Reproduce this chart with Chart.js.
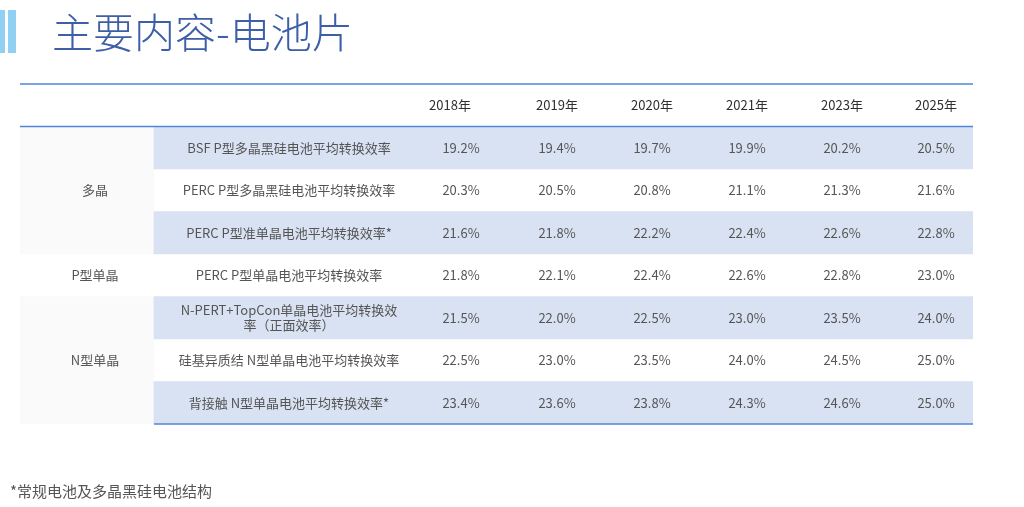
<!DOCTYPE html>
<html>
<head>
<meta charset="utf-8">
<script src="https://cdn.jsdelivr.net/npm/chart.js@4/dist/chart.umd.min.js"></script>
<style>
  html, body { margin: 0; padding: 0; background: #ffffff; }
  #wrap { width: 1024px; height: 507px; position: relative; }
</style>
</head>
<body>
<div id="wrap"><canvas id="c" width="1024" height="507"></canvas></div>
<script>
// ---------- DATA ----------
const titleText = '主要内容-电池片';
const footnote = '*常规电池及多晶黑硅电池结构';
const years = ['2018年', '2019年', '2020年', '2021年', '2023年', '2025年'];
const groupNames = ['多晶', 'P型单晶', 'N型单晶'];
const groupSpans = [3, 1, 3];
const itemNames = [
  'BSF P型多晶黑硅电池平均转换效率',
  'PERC P型多晶黑硅电池平均转换效率',
  'PERC P型准单晶电池平均转换效率*',
  'PERC P型单晶电池平均转换效率',
  ['N-PERT+TopCon单晶电池平均转换效', '率（正面效率）'],
  '硅基异质结 N型单晶电池平均转换效率',
  '背接触 N型单晶电池平均转换效率*'
];
const bsfPoly     = [19.2, 19.4, 19.7, 19.9, 20.2, 20.5];
const percPoly    = [20.3, 20.5, 20.8, 21.1, 21.3, 21.6];
const percQuasi   = [21.6, 21.8, 22.2, 22.4, 22.6, 22.8];
const percMono    = [21.8, 22.1, 22.4, 22.6, 22.8, 23.0];
const nPertTopcon = [21.5, 22.0, 22.5, 23.0, 23.5, 24.0];
const hjtMono     = [22.5, 23.0, 23.5, 24.0, 24.5, 25.0];
const ibcMono     = [23.4, 23.6, 23.8, 24.3, 24.6, 25.0];
const seriesRows = [bsfPoly, percPoly, percQuasi, percMono, nPertTopcon, hjtMono, ibcMono];

// ---------- LAYOUT (table units along x) ----------
const L = {
  tableWidth: 953,
  labelColEnd: 134,
  groupTextX: 75,
  itemTextX: 269,
  headerTextX: [430, 537, 632, 727, 822, 916],
  yearTextX: [441, 537, 632, 727, 822, 916]
};
const COLORS = {
  shade: '#d9e2f3', gray: '#fafafa', rule: '#4f86d9', title: '#3d5fa8',
  titleBar: '#92d0f3', header: '#2f2f2f', text: '#555555'
};
const FONT = '"Noto Sans CJK SC", "Noto Sans", sans-serif';

// ---------- derived tables ----------
const rowLabels = [''].concat(itemNames.map(n => Array.isArray(n) ? n.join('') : n));
const itemGroup = [];
groupSpans.forEach((s, g) => { for (let k = 0; k < s; k++) itemGroup.push(g); });
const shadeData = [null].concat(itemNames.map((_, i) => i % 2 === 0 ? [L.labelColEnd, L.tableWidth] : null));
const grayData = [null].concat(itemGroup.map(g => g % 2 === 0 ? [0, L.labelColEnd] : null));

const tablePlugin = {
  id: 'tablePlugin',
  beforeDraw(chart) {
    const ctx = chart.ctx;
    ctx.save();
    ctx.fillStyle = '#ffffff';
    ctx.fillRect(0, 0, chart.width, chart.height);
    ctx.restore();
  },
  afterDatasetsDraw(chart) {
    const ctx = chart.ctx;
    const xs = chart.scales.x, ys = chart.scales.y;
    const slot = ys.getPixelForValue(1) - ys.getPixelForValue(0);
    const x0 = xs.getPixelForValue(0), x1 = xs.getPixelForValue(L.tableWidth), xl = xs.getPixelForValue(L.labelColEnd);
    const top = ys.getPixelForValue(0) - slot / 2;
    const hdrBottom = ys.getPixelForValue(0) + slot / 2;
    const bottom = ys.getPixelForValue(itemNames.length) + slot / 2;
    ctx.save();
    // rules
    ctx.strokeStyle = COLORS.rule;
    ctx.lineWidth = 1.6;
    [[x0, top], [x0, hdrBottom], [xl, bottom]].forEach(([sx, yy]) => {
      ctx.beginPath(); ctx.moveTo(sx, yy); ctx.lineTo(x1, yy); ctx.stroke();
    });
    ctx.textAlign = 'center';
    ctx.textBaseline = 'middle';
    // header
    ctx.fillStyle = COLORS.header;
    ctx.font = '13px ' + FONT;
    years.forEach((yr, i) => ctx.fillText(yr, xs.getPixelForValue(L.headerTextX[i]), ys.getPixelForValue(0)));
    // groups
    ctx.fillStyle = COLORS.text;
    let start = 0;
    groupNames.forEach((g, gi) => {
      const a = ys.getPixelForValue(1 + start), b = ys.getPixelForValue(start + groupSpans[gi]);
      ctx.fillText(g, xs.getPixelForValue(L.groupTextX), (a + b) / 2);
      start += groupSpans[gi];
    });
    // items and values
    itemNames.forEach((n, i) => {
      const yc = ys.getPixelForValue(i + 1);
      const lines = Array.isArray(n) ? n : [n];
      lines.forEach((ln, k) => {
        ctx.fillText(ln, xs.getPixelForValue(L.itemTextX), yc + (k - (lines.length - 1) / 2) * 15);
      });
      seriesRows[i].forEach((v, j) => {
        ctx.fillText(v.toFixed(1) + '%', xs.getPixelForValue(L.yearTextX[j]), yc);
      });
    });
    ctx.restore();
  },
  afterDraw(chart) {
    const ctx = chart.ctx;
    ctx.save();
    ctx.fillStyle = COLORS.titleBar;
    ctx.fillRect(0, 10, 5, 43);
    ctx.fillRect(8, 10, 8, 43);
    ctx.fillStyle = COLORS.title;
    ctx.font = '300 41px ' + FONT;
    ctx.textAlign = 'left';
    ctx.textBaseline = 'alphabetic';
    ctx.fillText(titleText, 52, 48);
    ctx.fillStyle = COLORS.text;
    ctx.font = '15px ' + FONT;
    ctx.fillText(footnote, 10, 497);
    ctx.restore();
  }
};

new Chart(document.getElementById('c'), {
  type: 'bar',
  data: {
    labels: rowLabels,
    datasets: [
      { label: 'shade', data: shadeData, backgroundColor: COLORS.shade, grouped: false,
        barPercentage: 1, categoryPercentage: 1, borderWidth: 0 },
      { label: 'group', data: grayData, backgroundColor: COLORS.gray, grouped: false,
        barPercentage: 1, categoryPercentage: 1, borderWidth: 0 }
    ]
  },
  options: {
    indexAxis: 'y',
    responsive: false,
    animation: false,
    layout: { padding: { left: 20, right: 51, top: 84, bottom: 83 } },
    scales: {
      x: { type: 'linear', min: 0, max: L.tableWidth, display: false },
      y: { type: 'category', display: false, offset: true }
    },
    plugins: { legend: { display: false }, tooltip: { enabled: false }, title: { display: false } }
  },
  plugins: [tablePlugin]
});
</script>
</body>
</html>
